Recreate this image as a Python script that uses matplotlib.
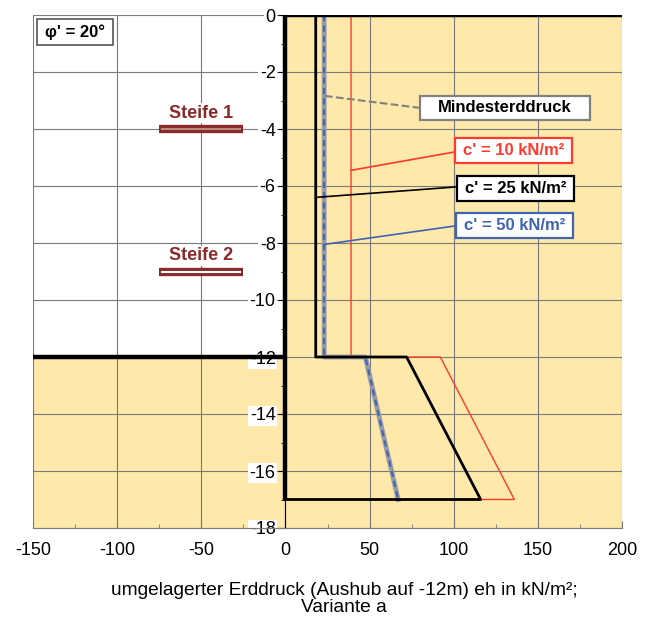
import numpy as np
import matplotlib.pyplot as plt
from matplotlib.ticker import MultipleLocator

plt.rcParams['font.family'] = ['Liberation Sans', 'DejaVu Sans']
plt.rcParams['axes.unicode_minus'] = False

# Tiefen (m) und umgelagerter Erddruck eh (kN/m²) je Kohaesion
tiefe = [0, -12, -12, -17, -17]
eh_c10 = [39, 39, 92, 136, 115]
eh_c25 = [18, 18, 72, 116, 0]
eh_c50 = [23, 23, 47.5, 67, 67]   # = Mindesterddruck

# Steifen: Hoehe und Lage
steifen_namen = ['Steife 1', 'Steife 2']
steifen_y = [-4, -9]
steifen_x = [-75, -25]

aushub = -12
wandfuss = -17

gelb = '#fee8aa'
rot = '#ff3b2f'
blau = '#3f64b4'
braun = '#8b2a2a'

fig = plt.figure(figsize=(6.53, 6.17), dpi=100)
ax = fig.add_axes([33/653, 1 - 528/617, 589/653, 513/617])
ax.set_xlim(-150, 200)
ax.set_ylim(-18, 0)

# Boden (gelb) rechts der Wand und unterhalb der Aushubsohle
ax.add_patch(plt.Rectangle((0, -18), 200, 18, facecolor=gelb, edgecolor='none', zorder=0))
ax.add_patch(plt.Rectangle((-150, -18), 150, 18 + aushub, facecolor=gelb, edgecolor='none', zorder=0))

ax.xaxis.set_major_locator(MultipleLocator(50))
ax.xaxis.set_minor_locator(MultipleLocator(25))
ax.yaxis.set_major_locator(MultipleLocator(2))
ax.yaxis.set_minor_locator(MultipleLocator(1))
ax.grid(True, which='major', color='#7a7a7a', lw=0.8, zorder=1)
ax.set_axisbelow(True)

ax.spines['top'].set_visible(False)
ax.spines['right'].set_visible(False)
ax.spines['left'].set_position(('data', 0))
ax.spines['left'].set_color('black')
ax.spines['bottom'].set_color('#7a7a7a')
ax.tick_params(axis='y', which='both', direction='out', color='black', labelsize=13, pad=2)
ax.tick_params(axis='y', which='major', length=5)
ax.tick_params(axis='y', which='minor', length=3)
ax.tick_params(axis='x', which='both', direction='in', color='#7a7a7a', labelsize=13, pad=10)
ax.tick_params(axis='x', which='major', length=5)
ax.tick_params(axis='x', which='minor', length=3)
ax.set_yticks(np.arange(-18, 1, 2))
ax.set_yticklabels([str(v) for v in range(-18, 1, 2)])
for lbl in ax.get_yticklabels():
    lbl.set_bbox(dict(facecolor='white', edgecolor='none', pad=1))
    lbl.set_zorder(6)

# Gelaende, Aushubsohle und Wand
ax.plot([0, 200], [0, 0], color='black', lw=3.2, zorder=4, solid_capstyle='butt')
ax.plot([-150, 0], [aushub, aushub], color='black', lw=3.2, zorder=4, solid_capstyle='butt')
ax.plot([0, 0], [0, wandfuss], color='black', lw=3.2, zorder=4, solid_capstyle='butt')

# Erddruckfiguren
ax.plot(eh_c10 + [0], tiefe + [wandfuss], color=rot, lw=1.0, zorder=3)
ax.plot(eh_c50, tiefe, color='#9a9aa6', lw=3.5, zorder=3)
ax.plot(eh_c50, tiefe, color=blau, lw=1.5, ls=(0, (3, 2)), zorder=3)
ax.plot([0] + eh_c25, [0] + tiefe, color='black', lw=2.0, zorder=4)

# Steifen
for name, y in zip(steifen_namen, steifen_y):
    ax.plot(steifen_x, [y, y], color=braun, lw=6, solid_capstyle='butt', zorder=4)
    inner = '#b88a80' if y == -4 else 'white'
    ax.plot([steifen_x[0] + 1.2, steifen_x[1] - 1.2], [y, y], color=inner, lw=1.5,
            solid_capstyle='butt', zorder=5)
    ax.text(np.mean(steifen_x), y + 0.55, name, color=braun, fontsize=13, fontweight='bold',
            ha='center', va='center', zorder=5,
            bbox=dict(facecolor='white', edgecolor='none', pad=1))

# Reibungswinkel
ax.add_patch(plt.Rectangle((-147.6, -1.05), 45, 0.9, facecolor='white', edgecolor='#555555',
                           lw=1.2, zorder=6))
ax.text(-125.1, -0.6, "φ' = 20°", fontsize=12, fontweight='bold', ha='center', va='center',
        zorder=7)

# Beschriftungen mit Hinweislinien
labels = [
    ('Mindesterddruck', 'black', '#808080', (23.5, -2.84), (80, -3.26), '--', (130.5, -3.26), 101),
    ("c' = 10 kN/m²", rot, rot, (39, -5.45), (101, -4.8), '-', (135.8, -4.77), 69.5),
    ("c' = 25 kN/m²", 'black', 'black', (18, -6.4), (102, -6.03), '-', (136.7, -6.1), 69.5),
    ("c' = 50 kN/m²", blau, blau, (23, -8.05), (101, -7.4), '-', (136, -7.37), 69.5),
]
for txt, tcol, ecol, p0, p1, ls, mitte, breite in labels:
    ax.plot([p0[0], p1[0]], [p0[1], p1[1]], color=ecol, lw=1.2 if ls == '-' else 1.5,
            ls=ls, zorder=4)
    hoehe = 0.82 if breite > 80 else 0.88
    ax.add_patch(plt.Rectangle((mitte[0] - breite / 2, mitte[1] - hoehe / 2), breite, hoehe,
                               facecolor='white', edgecolor=ecol, lw=1.6, zorder=6))
    ax.text(mitte[0], mitte[1], txt, color=tcol, fontsize=12, fontweight='bold',
            ha='center', va='center', zorder=7)

fig.text(344/653, 1 - 599/617, 'umgelagerter Erddruck (Aushub auf -12m) eh in kN/m²;\nVariante a',
         ha='center', va='center', fontsize=13.8, linespacing=1.05)

fig.savefig('out.png', dpi=100)
